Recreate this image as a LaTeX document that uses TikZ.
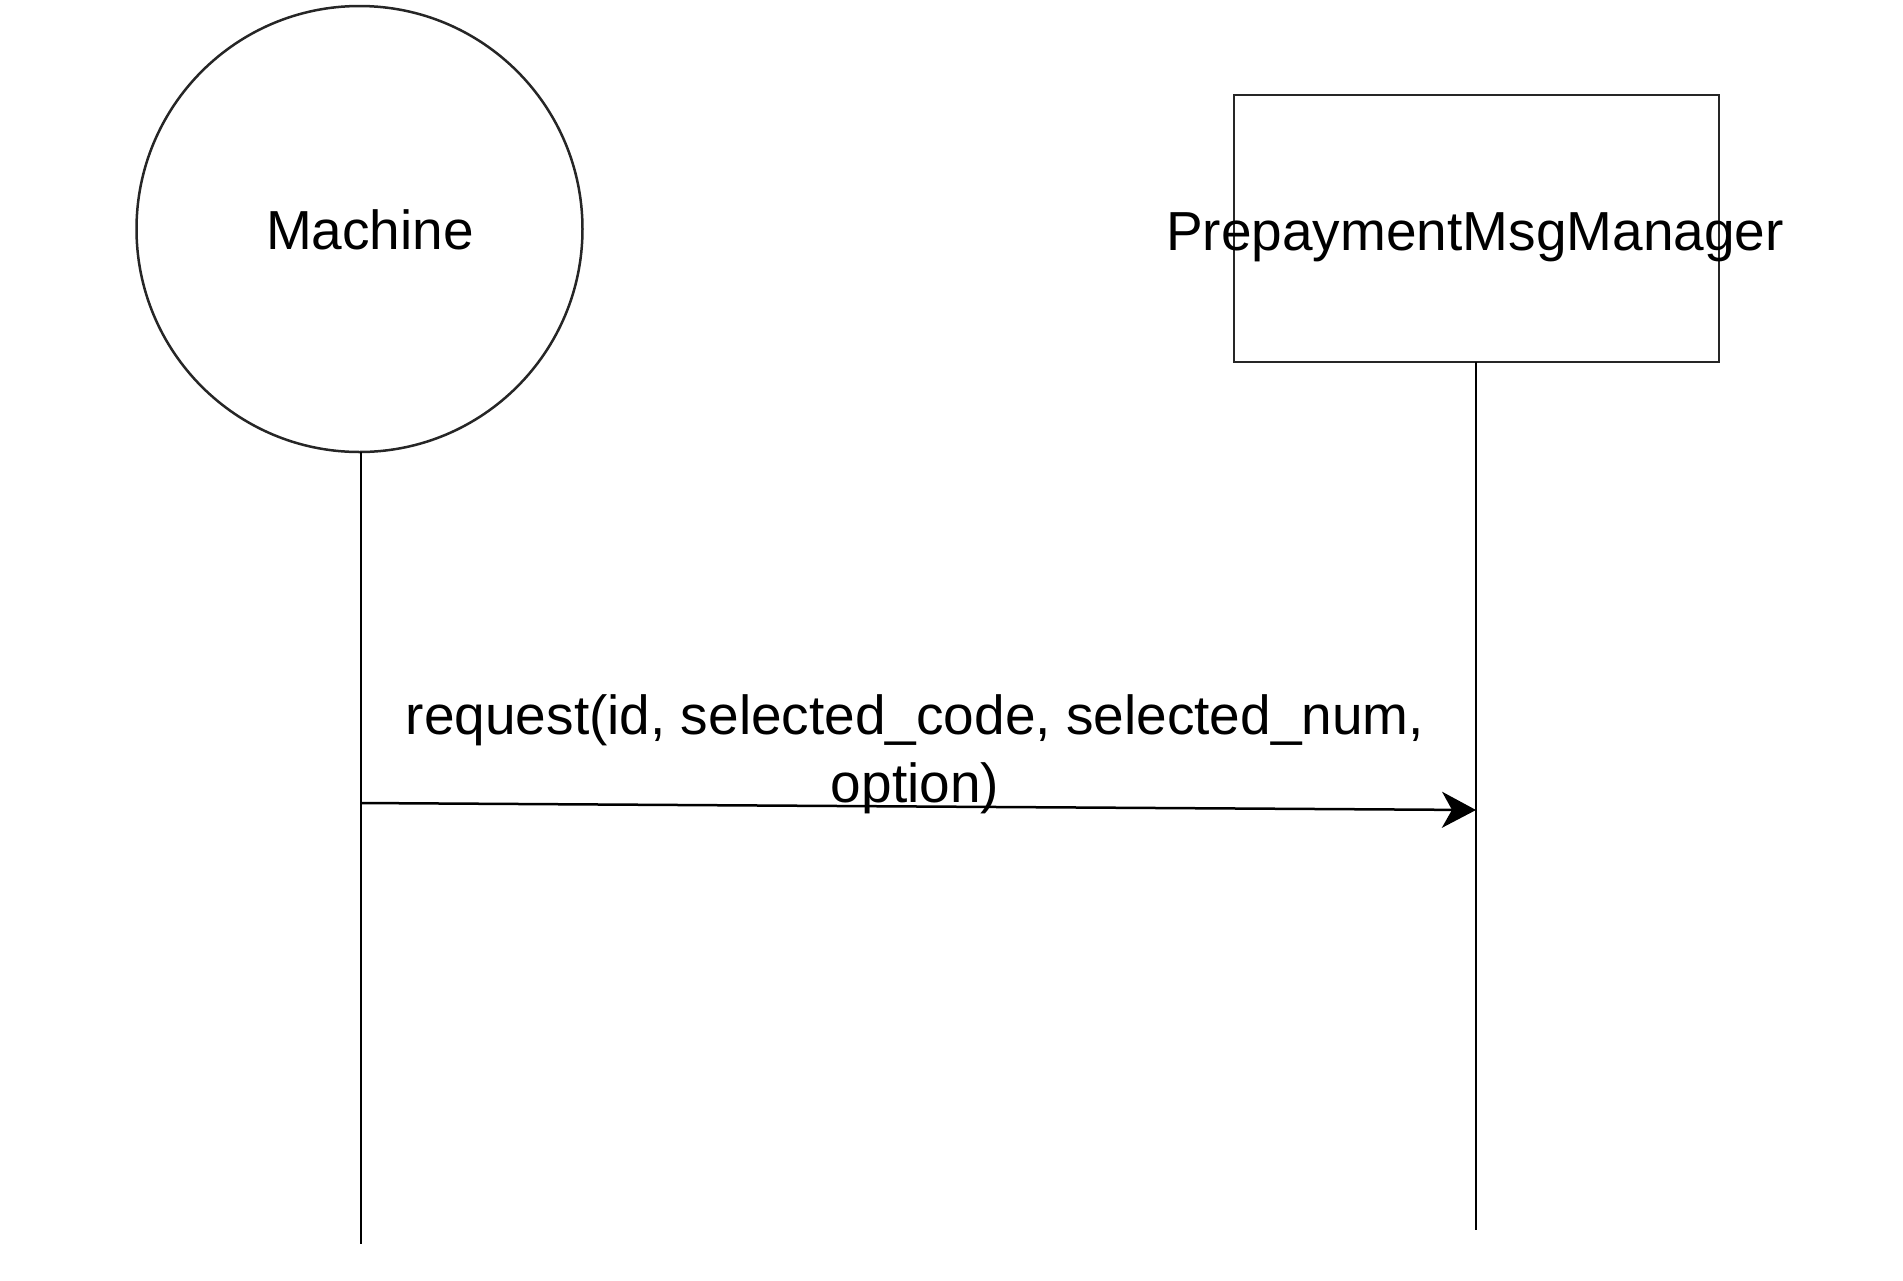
\documentclass[tikz,border=0pt]{standalone}
\usepackage{fontspec}
\setmainfont{Liberation Sans}
\usetikzlibrary{arrows.meta}
\begin{document}
\begin{tikzpicture}[x=0.5pt,y=-0.5pt,
  shapeline/.style={draw=black!85,line width=1.25pt},
  lbl/.style={font=\fontsize{27.5}{34}\selectfont, inner sep=0pt},
  life/.style={draw=black,line width=1.25pt},
  msg/.style={draw=black,line width=1.25pt,-{Stealth[length=17pt,width=18pt,inset=5pt]}}]
\useasboundingbox (0,0) rectangle (1903,1281);
\node[circle, shapeline, minimum size=223pt, inner sep=0pt] (machine) at (359.5,229) {};
\node[lbl, anchor=base] (machinetext) at (370,249) {Machine};
\node[rectangle, shapeline, minimum width=242.5pt, minimum height=133.5pt, inner sep=0pt] (pmm) at (1476.5,228.5) {};
\node[lbl, anchor=base] (pmmtext) at (1475,250) {PrepaymentMsgManager};
\coordinate (mtop) at (361,452);
\coordinate (mend) at (361,1244);
\coordinate (ptop) at (1476,362);
\coordinate (pend) at (1476,1230);
\draw[life] (mtop) -- (mend);
\draw[life] (ptop) -- (pend);
\coordinate (a1) at (361,803);
\coordinate (a2) at (1476,810);
\draw[msg] (a1) -- (a2);
\node[lbl, align=center] (msglabel) at (915,754) {request(id, selected\_code, selected\_num,\\option)};
\end{tikzpicture}
\end{document}
